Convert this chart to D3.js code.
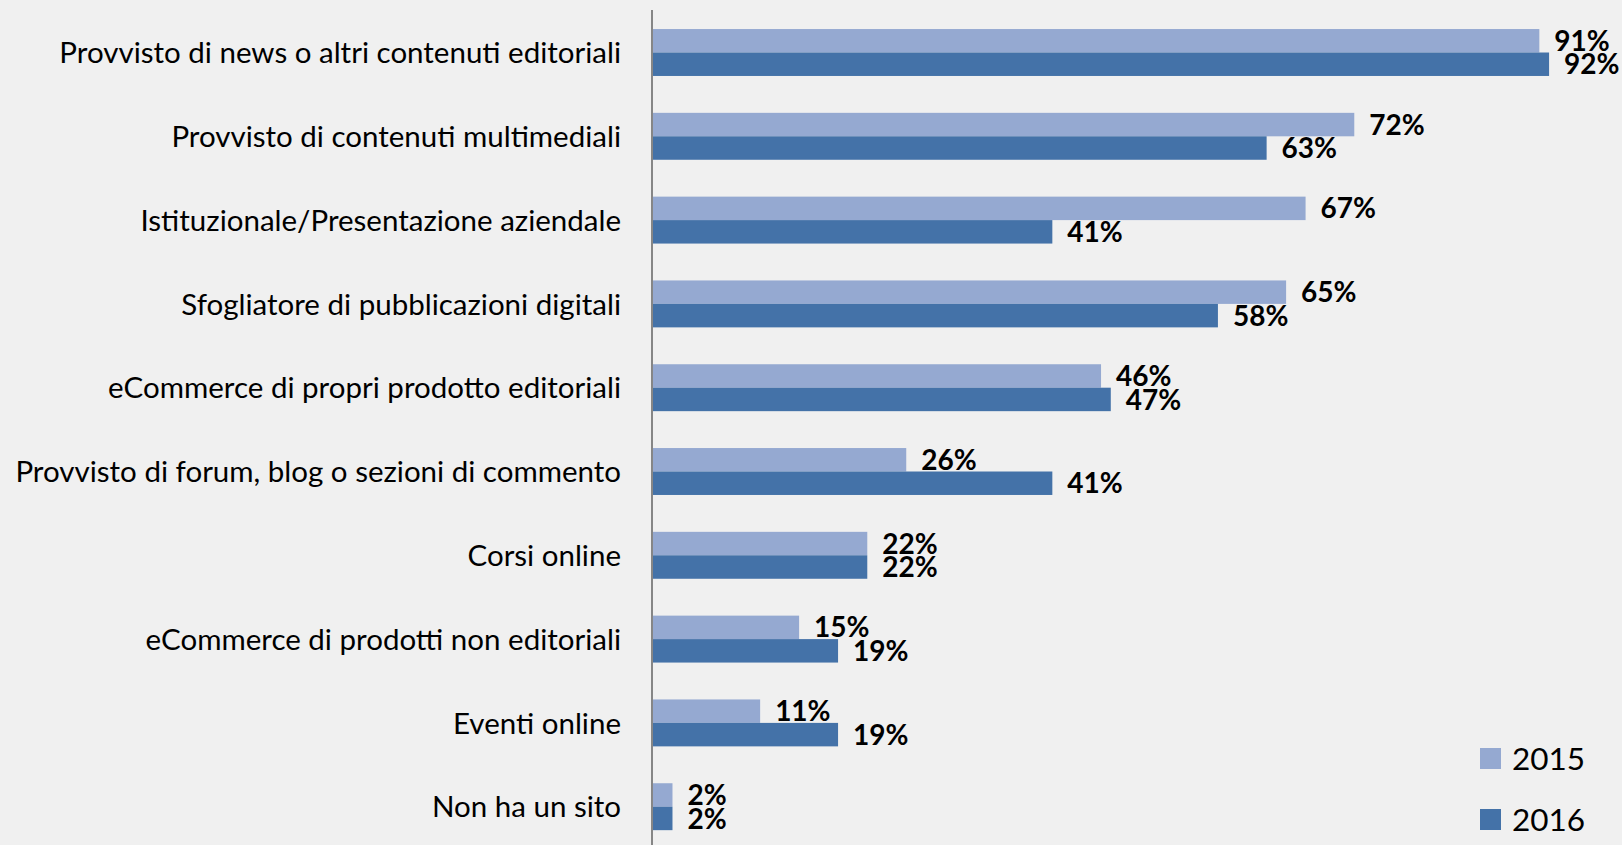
<!DOCTYPE html>
<html>
<head>
<meta charset="utf-8">
<script src="https://cdn.jsdelivr.net/npm/d3@7"></script>
<style>
  html, body { margin: 0; padding: 0; background: #f0f0f0; }
  svg { display: block; }
</style>
</head>
<body>
<svg id="chart" width="1622" height="845"></svg>
<script>
// Website features of publishers, 2015 vs 2016 (% of respondents)
const categories = [
  "Provvisto di news o altri contenuti editoriali",
  "Provvisto di contenuti multimediali",
  "Istituzionale/Presentazione aziendale",
  "Sfogliatore di pubblicazioni digitali",
  "eCommerce di propri prodotto editoriali",
  "Provvisto di forum, blog o sezioni di commento",
  "Corsi online",
  "eCommerce di prodotti non editoriali",
  "Eventi online",
  "Non ha un sito"
];
const seriesNames = ["2015", "2016"];
const values2015 = [91, 72, 67, 65, 46, 26, 22, 15, 11, 2];
const values2016 = [92, 63, 41, 58, 47, 41, 22, 19, 19, 2];
const seriesColors = ["#95a9d1", "#4472a8"];

const seriesValues = [values2015, values2016];
const rows = categories.map((c, i) => ({
  category: c,
  values: seriesNames.map((s, k) => ({ series: s, value: seriesValues[k][i], k }))
}));

const svg = d3.select("#chart");
const W = 1622, H = 845;
svg.append("rect").attr("width", W).attr("height", H).attr("fill", "#f0f0f0");

const x = d3.scaleLinear().domain([0, 100]).range([653, 1627]);
const y = d3.scaleBand().domain(categories).range([10.6, 848.6])
  .paddingInner(0.44).paddingOuter(0.22);
const ySub = d3.scaleBand().domain(seriesNames).range([0, y.bandwidth()]);

const font = "Lato, 'Open Sans', sans-serif";

// bars
const groups = svg.append("g").selectAll("g").data(rows).join("g")
  .attr("transform", d => `translate(0,${y(d.category)})`);

groups.selectAll("rect").data(d => d.values).join("rect")
  .attr("x", x(0))
  .attr("y", d => ySub(d.series))
  .attr("width", d => x(d.value) - x(0))
  .attr("height", ySub.bandwidth())
  .attr("fill", d => seriesColors[d.k]);

// value labels
groups.selectAll("text").data(d => d.values).join("text")
  .attr("x", d => x(d.value) + 15)
  .attr("y", d => ySub(d.series) + ySub.bandwidth() / 2)
  .attr("dy", "0.36em")
  .attr("font-family", font)
  .attr("font-weight", 700)
  .attr("font-size", 28)
  .attr("fill", "#000")
  .text(d => d.value + "%");

// category axis
const axis = d3.axisLeft(y).tickSize(0).tickPadding(31);
const gAxis = svg.append("g").attr("transform", `translate(${x(0) - 1},0)`).call(axis);
gAxis.select(".domain").attr("stroke", "#868686").attr("stroke-width", 2)
  .attr("d", `M0,10V${H}`);
gAxis.selectAll(".tick text")
  .attr("font-family", font)
  .attr("font-size", 29.5)
  .attr("fill", "#000")
  .attr("dy", "0.36em");

// legend
const legend = svg.append("g").selectAll("g").data(seriesNames).join("g")
  .attr("transform", (d, i) => `translate(1480,${748 + i * 61})`);
legend.append("rect").attr("width", 21).attr("height", 21)
  .attr("fill", (d, i) => seriesColors[i]);
legend.append("text")
  .attr("x", 32).attr("y", 10.5).attr("dy", "0.36em")
  .attr("font-family", font).attr("font-size", 31.5).attr("fill", "#000")
  .text(d => d);
</script>
</body>
</html>
